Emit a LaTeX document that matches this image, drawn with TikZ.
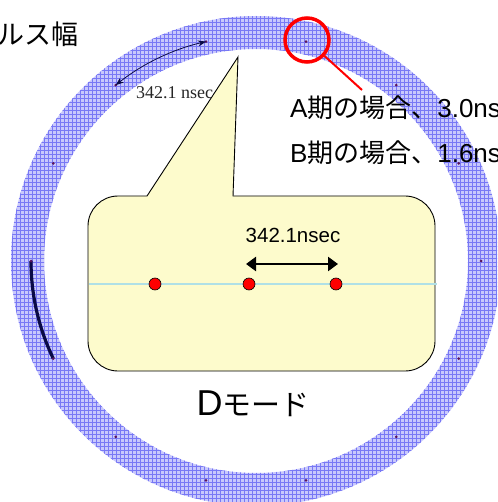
\documentclass[tikz,border=0pt]{standalone}
\usepackage{fontspec}
\setmainfont{Liberation Sans}
\newfontfamily\jpf{Noto Sans CJK JP}
\newfontfamily\timesf{Liberation Serif}
\usetikzlibrary{patterns,arrows.meta,calc}
\definecolor{ringbase}{RGB}{200,200,252}
\definecolor{ringgrid}{RGB}{120,120,245}
\definecolor{ringdot}{RGB}{90,20,90}
\definecolor{navyline}{RGB}{10,10,70}
\definecolor{bubblefill}{RGB}{253,251,204}
\definecolor{axisblue}{RGB}{176,224,230}
\pgfdeclarepatternformonly{ringmesh}{\pgfqpoint{-1pt}{-1pt}}{\pgfqpoint{4pt}{4pt}}{\pgfqpoint{4pt}{4pt}}{%
  \pgfsetlinewidth{0.7pt}%
  \pgfpathmoveto{\pgfqpoint{0pt}{0pt}}\pgfpathlineto{\pgfqpoint{4pt}{0pt}}%
  \pgfpathmoveto{\pgfqpoint{0pt}{0pt}}\pgfpathlineto{\pgfqpoint{0pt}{4pt}}%
  \pgfusepath{stroke}}
\tikzset{
  ringdotstyle/.style={circle,fill=ringdot,inner sep=0pt,minimum size=3pt},
  bunch/.style={circle,fill=red,draw=black,line width=0.6pt,inner sep=0pt,minimum size=12pt},
  bubble/.style={draw=black,line width=0.9pt,fill=bubblefill},
  jptext/.style={inner sep=0pt,outer sep=0pt},
}
\begin{document}
\begin{tikzpicture}[x=1pt,y=-1pt]
\useasboundingbox (0,0) rectangle (497,502);
\clip (0,0) rectangle (497,502);
\coordinate (c) at (256,261);
% ring
\fill[ringbase,even odd rule] (c) circle[radius=245pt] (c) circle[radius=212pt];
\fill[pattern=ringmesh,pattern color=ringgrid,even odd rule] (c) circle[radius=245pt] (c) circle[radius=212pt];
% bunch positions on ring
\foreach \k in {0,...,13}{
  \coordinate (d\k) at ($(c)+({\k*360/14}:225pt)$);
}
% black arc (bunch train)
\draw[navyline,line width=3.2pt] (d7) arc[start angle=180,end angle=205.714,radius=225pt];
\foreach \k in {0,...,13}{
  \node[ringdotstyle] (n\k) at (d\k) {};
}
% upper-left arrow
\draw[navyline,line width=0.8pt,{Stealth[length=8pt,width=6pt]}-{Stealth[length=8pt,width=6pt]}]
  (d4) arc[start angle=102.857,end angle=128.571,radius=225pt];
\node[anchor=base west,inner sep=0pt,font=\timesf\fontsize{18pt}{20pt}\selectfont,text=black!85] (tl) at (136,99) {342.1 nsec};
% bubble
\draw[bubble] (238,57) -- (233,196) -- (405,196)
  arc[start angle=90,end angle=0,radius=30pt] -- (435,341)
  arc[start angle=0,end angle=-90,radius=30pt] -- (118,371)
  arc[start angle=270,end angle=180,radius=30pt] -- (88,226)
  arc[start angle=180,end angle=90,radius=30pt] -- (147,196) -- cycle;
\coordinate (bl) at (89,284);
\coordinate (br) at (437,284);
\draw[axisblue,line width=2pt] (bl) -- (br);
\node[bunch] (b1) at (155,284) {};
\node[bunch] (b2) at (249,284) {};
\node[bunch] (b3) at (336,284) {};
\coordinate (a1) at (246,264);
\coordinate (a2) at (338,264);
\draw[black,line width=2.5pt,{Triangle[length=10pt,width=14pt]}-{Triangle[length=10pt,width=14pt]}] (a1) -- (a2);
\node[inner sep=0pt,font=\fontsize{20.5pt}{22pt}\selectfont] (lab) at (293,235) {342.1nsec};
\node[jptext,anchor=base] (mode) at (253,415) {{\fontsize{36pt}{38pt}\selectfont D}{\jpf\fontsize{29pt}{32pt}\selectfont モード}};
% red circle and pointer
\node[circle,draw=red,line width=3.5pt,minimum size=44pt,inner sep=0pt] (rc) at (307,40) {};
\coordinate (rl) at (362,90);
\draw[red,line width=2pt] (rc) -- (rl);
% texts
\node[jptext,anchor=base west] (ta) at (290,118) {\fontsize{26pt}{30pt}\selectfont A{\jpf 期の場合、}3.0ns};
\node[jptext,anchor=base west] (tb) at (290,163) {\fontsize{26pt}{30pt}\selectfont B{\jpf 期の場合、}1.6ns};
\node[jptext,anchor=base west] (pw) at (-2,45) {\jpf\fontsize{27pt}{30pt}\selectfont ルス幅};
\end{tikzpicture}
\end{document}
